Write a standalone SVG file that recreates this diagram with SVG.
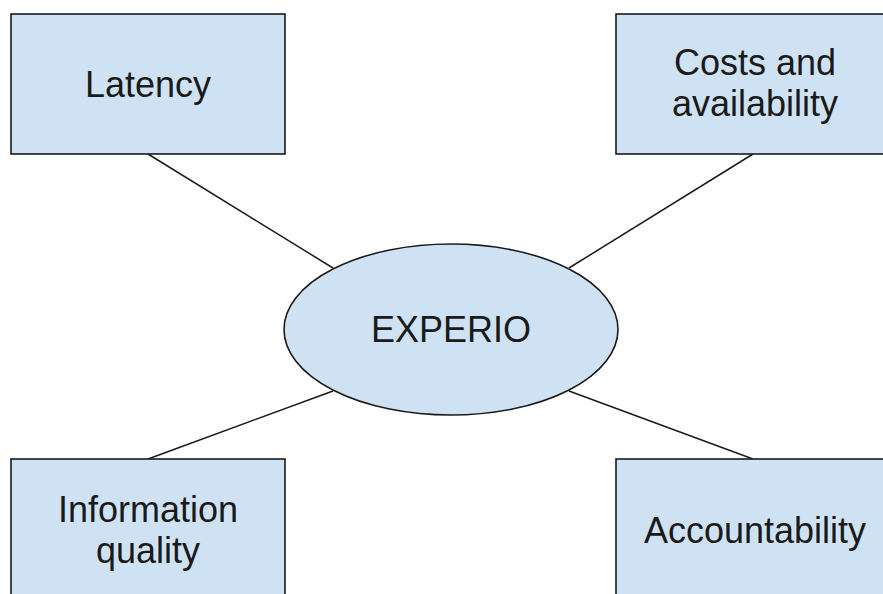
<svg xmlns="http://www.w3.org/2000/svg" width="883" height="594" viewBox="0 0 883 594">
<style>
.box{fill:#cfe2f3;stroke:#1a1a1a;stroke-width:1.6}
.lbl{font-family:"Liberation Sans",Arial,sans-serif;font-size:36px;fill:#1a1a1a;text-anchor:middle}
.conn{stroke:#1a1a1a;stroke-width:1.5;fill:none}
</style>
<rect width="883" height="594" fill="#ffffff"/>
<g id="connectors">
<line class="conn" x1="148" y1="154" x2="333" y2="268"/>
<line class="conn" x1="753" y1="154" x2="569" y2="268"/>
<line class="conn" x1="148" y1="459" x2="333" y2="391"/>
<line class="conn" x1="753" y1="459" x2="569" y2="391"/>
</g>
<g id="latency">
<rect class="box" x="11" y="14" width="274" height="140"/>
<text class="lbl" x="148" y="97">Latency</text>
</g>
<g id="costs">
<rect class="box" x="616" y="14" width="278" height="140"/>
<text class="lbl" x="755" y="75">Costs and</text>
<text class="lbl" x="755" y="116">availability</text>
</g>
<g id="experio">
<ellipse class="box" cx="451" cy="329.5" rx="167" ry="85.5"/>
<text class="lbl" x="451" y="342">EXPERIO</text>
</g>
<g id="information">
<rect class="box" x="11" y="459" width="274" height="150"/>
<text class="lbl" x="148" y="522">Information</text>
<text class="lbl" x="148" y="563">quality</text>
</g>
<g id="accountability">
<rect class="box" x="616" y="459" width="278" height="150"/>
<text class="lbl" x="755" y="543">Accountability</text>
</g>
</svg>
